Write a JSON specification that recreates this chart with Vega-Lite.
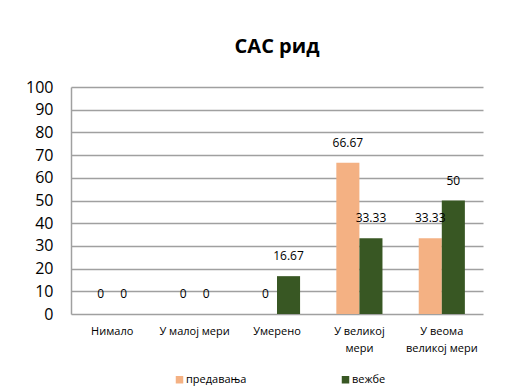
{
  "$schema": "https://vega.github.io/schema/vega-lite/v6.json",
  "width": 412,
  "height": 227,
  "autosize": {"type": "none"},
  "padding": {"left": 71, "top": 87, "right": 36, "bottom": 77},
  "background": "white",
  "title": {"text": "САС рид", "fontSize": 20, "font": "Open Sans", "fontWeight": "bold", "color": "#000000", "offset": 22, "anchor": "middle"},
  "data": {"values": [
    {"category": "Нимало", "series": "предавања", "value": 0},
    {"category": "Нимало", "series": "вежбе", "value": 0},
    {"category": "У малој мери", "series": "предавања", "value": 0},
    {"category": "У малој мери", "series": "вежбе", "value": 0},
    {"category": "Умерено", "series": "предавања", "value": 0},
    {"category": "Умерено", "series": "вежбе", "value": 16.67},
    {"category": "У великој мери", "series": "предавања", "value": 66.67},
    {"category": "У великој мери", "series": "вежбе", "value": 33.33},
    {"category": "У веома великој мери", "series": "предавања", "value": 33.33},
    {"category": "У веома великој мери", "series": "вежбе", "value": 50}
  ]},
  "encoding": {
    "x": {"field": "category", "type": "nominal", "sort": null,
      "scale": {"paddingInner": 0.44, "paddingOuter": 0.22},
      "axis": {"title": null, "labelAngle": 0, "labelFont": "Open Sans", "labelFontSize": 11, "labelColor": "#000000", "labelPadding": 17, "labelBaseline": "middle", "labelLineHeight": 17, "ticks": false, "domain": false,
        "labelExpr": "datum.value == 'У великој мери' ? ['У великој', 'мери'] : datum.value == 'У веома великој мери' ? ['У веома', 'великој мери'] : datum.value"}},
    "xOffset": {"field": "series", "type": "nominal", "sort": ["предавања", "вежбе"]},
    "y": {"field": "value", "type": "quantitative",
      "scale": {"domain": [0, 100], "nice": false},
      "axis": {"title": null, "values": [0,10,20,30,40,50,60,70,80,90,100], "labelFont": "Open Sans", "labelFontSize": 16, "labelColor": "#000000", "labelPadding": 18, "ticks": false, "domain": true, "domainColor": "#a0a0a0", "domainWidth": 1.5, "grid": true, "gridColor": "#a0a0a0", "gridWidth": 1.5}}
  },
  "layer": [
    {"mark": {"type": "bar"},
     "encoding": {"color": {"field": "series", "type": "nominal", "sort": ["предавања", "вежбе"],
        "scale": {"domain": ["предавања", "вежбе"], "range": ["#F4B183", "#385723"]},
        "legend": {"title": null, "orient": "none", "direction": "horizontal", "legendX": 103, "legendY": 287, "symbolType": "square", "symbolSize": 56, "symbolStrokeWidth": 0, "labelFont": "Open Sans", "labelFontSize": 11, "labelColor": "#000000", "columnPadding": 93, "labelOffset": 1}}}},
    {"mark": {"type": "text", "baseline": "middle", "dy": -20, "font": "Open Sans", "fontSize": 12, "color": "#000000"},
     "encoding": {"text": {"field": "value", "type": "quantitative"}}}
  ],
  "config": {"view": {"stroke": null}}
}
